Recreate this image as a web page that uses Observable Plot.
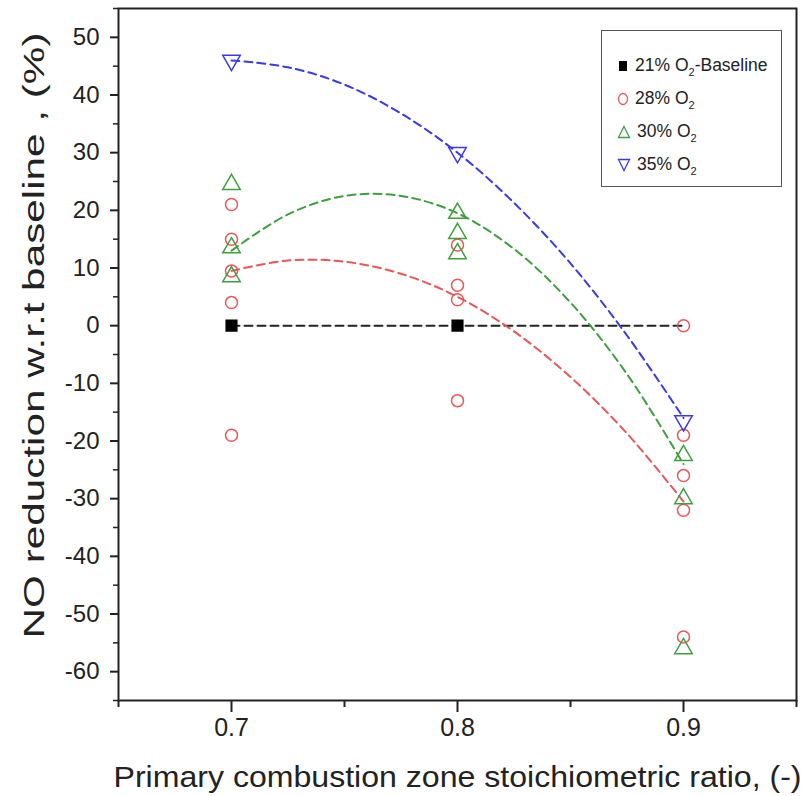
<!DOCTYPE html>
<html>
<head>
<meta charset="utf-8">
<script src="https://cdn.jsdelivr.net/npm/d3@7"></script>
<script src="https://cdn.jsdelivr.net/npm/@observablehq/plot@0.6"></script>
<style>
  body { margin: 0; background: #fff; }
  #wrap { position: relative; width: 810px; height: 796px; font-family: "Liberation Sans", Arial, sans-serif; }
  #wrap svg { font-family: "Liberation Sans", Arial, sans-serif; }
  #legend { position: absolute; left: 601px; top: 30px; width: 181px; height: 157px; border: 1.5px solid #555; box-sizing: border-box; background: #fff; }
  .item { position: absolute; left: 15px; font-size: 17.5px; color: #222; display: flex; align-items: center; white-space: nowrap; }
  .item svg { margin-right: 6px; }
  .item sub { font-size: 11px; line-height: 0; vertical-align: -5px; }
</style>
</head>
<body>
<div id="wrap"></div>
<script>
// ---- data ----
const xTicks = [0.7, 0.8, 0.9];
const xMinor = [0.65, 0.75, 0.85, 0.95];
const yTicks = [-60, -50, -40, -30, -20, -10, 0, 10, 20, 30, 40, 50];
const yMinor = [-65, -55, -45, -35, -25, -15, -5, 5, 15, 25, 35, 45, 55];

const xBase = [0.7, 0.8];
const yBase = [0, 0];
const xBaseLine = [0.7, 0.9];
const yBaseLine = [0, 0];

const x28 = [0.7, 0.7, 0.7, 0.7, 0.7, 0.8, 0.8, 0.8, 0.8, 0.9, 0.9, 0.9, 0.9, 0.9];
const y28 = [21, 15, 9.5, 4, -19, 14, 7, 4.5, -13, 0, -19, -26, -32, -54];

const x30 = [0.7, 0.7, 0.7, 0.8, 0.8, 0.8, 0.9, 0.9, 0.9];
const y30 = [24.5, 13.5, 8.5, 19.5, 16, 12.5, -22.5, -30, -56];

const x35 = [0.7, 0.8, 0.9];
const y35 = [46, 30, -16.5];

// fitted dashed curves, read at these x positions
const xFit = [0.7, 0.725, 0.75, 0.775, 0.8, 0.825, 0.85, 0.875, 0.9];
const fit28 = [9.5, 11.3, 11.1, 9.0, 5, -1.0, -8.9, -18.7, -30.5];
const fit30 = [13, 19.3, 22.5, 22.5, 19.5, 13.3, 4.0, -8.4, -24];
const fit35 = [46, 44.8, 41.8, 36.8, 30, 21.3, 10.8, -1.7, -16];

const xLabel = "Primary combustion zone stoichiometric ratio, (-)";
const yLabel = "NO reduction w.r.t baseline , (%)";

const RED = "#e8575a", GREEN = "#3f9f3f", BLUE = "#3a3ae6", BLACK = "#000";

const pts = (xs, ys) => xs.map((x, i) => ({x, y: ys[i]}));

const dash = "8,5";
const plot = Plot.plot({
  width: 810, height: 796,
  marginLeft: 118, marginRight: 14, marginTop: 8, marginBottom: 96,
  x: {domain: [0.65, 0.95]},
  y: {domain: [-65, 55]},
  style: {fontFamily: "Liberation Sans, Arial, sans-serif", color: "#222", background: "#fff"},
  marks: [
    Plot.line(pts(xBaseLine, yBaseLine), {x: "x", y: "y", stroke: "#222", strokeWidth: 2, strokeDasharray: dash}),
    Plot.line(pts(xFit, fit28), {x: "x", y: "y", stroke: RED, strokeWidth: 2, strokeDasharray: dash, curve: "catmull-rom"}),
    Plot.line(pts(xFit, fit30), {x: "x", y: "y", stroke: GREEN, strokeWidth: 2, strokeDasharray: dash, curve: "catmull-rom"}),
    Plot.line(pts(xFit, fit35), {x: "x", y: "y", stroke: BLUE, strokeWidth: 2, strokeDasharray: dash, curve: "catmull-rom"}),
    Plot.dot(pts(xBase, yBase), {x: "x", y: "y", symbol: "square", r: 6, fill: BLACK, stroke: BLACK}),
    Plot.dot(pts(x28, y28), {x: "x", y: "y", symbol: "circle", r: 6, stroke: RED, strokeWidth: 1.5, fill: "none"}),
    Plot.dot(pts(x30, y30), {x: "x", y: "y", symbol: "triangle", r: 6.5, stroke: GREEN, strokeWidth: 1.5, fill: "none"}),
    Plot.dot(pts(x35, y35), {x: "x", y: "y", symbol: "triangle", rotate: 180, r: 6.5, stroke: BLUE, strokeWidth: 1.5, fill: "none"}),
    Plot.axisX({ticks: xTicks, tickSize: 12, tickPadding: 6, fontSize: 25, tickFormat: d => d.toFixed(1), label: null, strokeWidth: 2}),
    Plot.axisX({ticks: xMinor, tickSize: 7, text: null, label: null, strokeWidth: 2}),
    Plot.axisY({ticks: yTicks, tickSize: 8, tickPadding: 11, fontSize: 24, tickFormat: d => String(d), label: null, strokeWidth: 2}),
    Plot.axisY({ticks: yMinor, tickSize: 5, text: null, label: null, strokeWidth: 1.5}),
    Plot.text([xLabel], {frameAnchor: "bottom", dy: 86, fontSize: 29, fill: "#222", text: d => d, className: "xlab"}),
    Plot.text([yLabel], {frameAnchor: "left", textAnchor: "middle", dx: -84, dy: -19, rotate: -90, fontSize: 29, fill: "#222", text: d => d, className: "ylab"}),
    Plot.frame({stroke: "#222", strokeWidth: 2})
  ]
});
const wrap = document.getElementById("wrap");
wrap.appendChild(plot);
// stretch axis titles to the reference's extents
d3.select(plot).selectAll(".xlab text").attr("textLength", 688).attr("lengthAdjust", "spacingAndGlyphs");
d3.select(plot).selectAll(".ylab text").attr("textLength", 606).attr("lengthAdjust", "spacingAndGlyphs");

// legend overlay
const sym = {
  sq: '<svg width="12" height="14"><rect x="2" y="2" width="8" height="10" fill="#000"/></svg>',
  ci: `<svg width="12" height="14"><ellipse cx="6" cy="7" rx="4.5" ry="5.5" fill="none" stroke="${RED}" stroke-width="1.3"/></svg>`,
  up: `<svg width="14" height="14"><path d="M7,1.5 L12.5,12.5 L1.5,12.5 Z" fill="none" stroke="${GREEN}" stroke-width="1.3"/></svg>`,
  dn: `<svg width="14" height="14"><path d="M1.5,1.5 L12.5,1.5 L7,12.5 Z" fill="none" stroke="${BLUE}" stroke-width="1.3"/></svg>`
};
const lg = document.createElement("div");
lg.id = "legend";
lg.innerHTML = `
  <div class="item" style="top:24px">${sym.sq}<span>21% O<sub>2</sub>-Baseline</span></div>
  <div class="item" style="top:57px">${sym.ci}<span>28% O<sub>2</sub></span></div>
  <div class="item" style="top:90px">${sym.up}<span>30% O<sub>2</sub></span></div>
  <div class="item" style="top:123px">${sym.dn}<span>35% O<sub>2</sub></span></div>`;
wrap.appendChild(lg);
</script>
</body>
</html>
